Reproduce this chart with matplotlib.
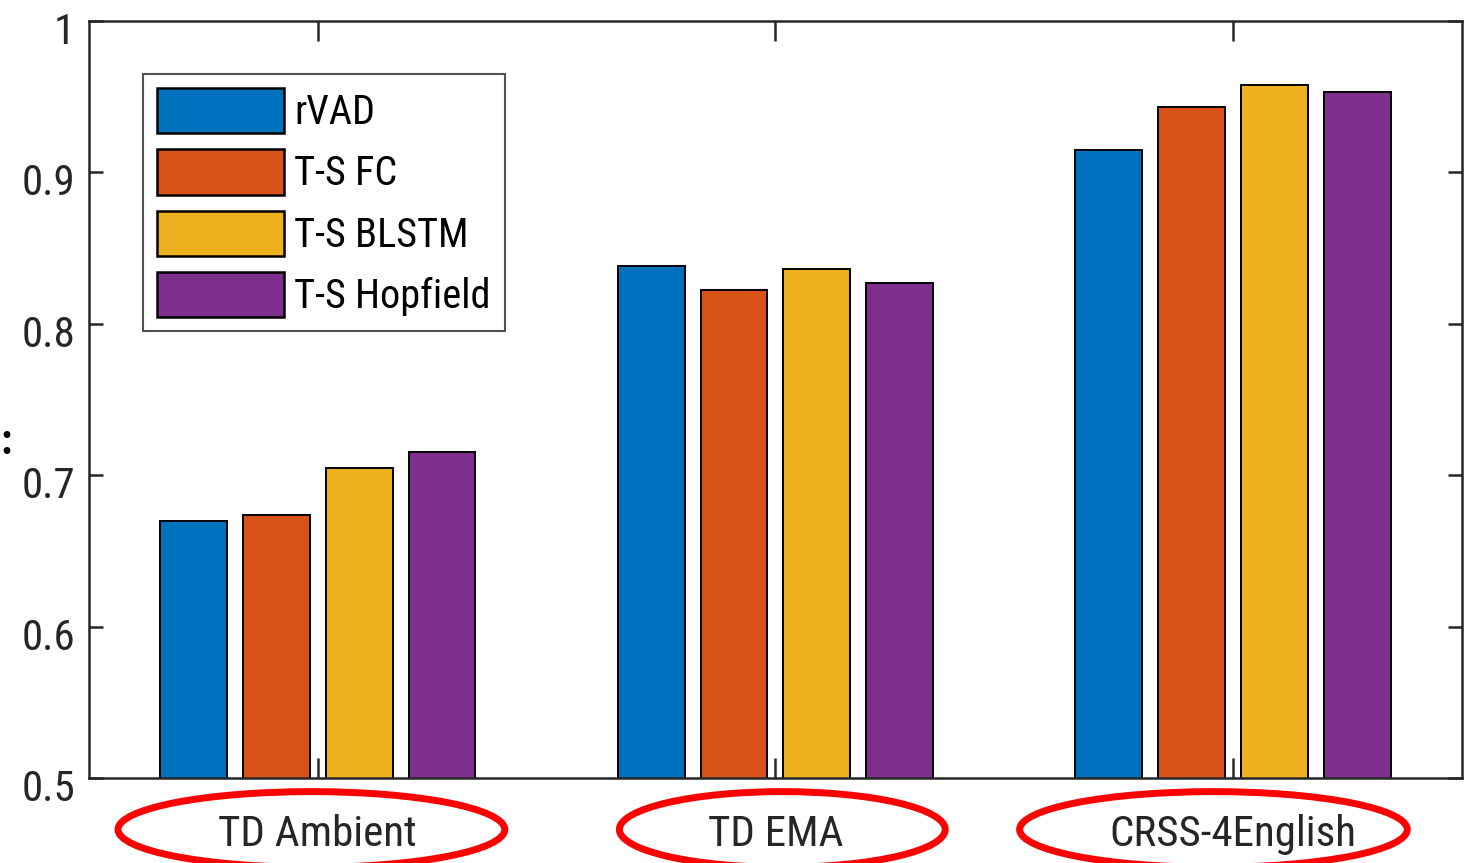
import matplotlib
matplotlib.use('Agg')
import matplotlib.pyplot as plt
import matplotlib.transforms as mtransforms
import numpy as np
from matplotlib.patches import Ellipse

plt.rcParams['font.family'] = ['Roboto Condensed', 'Liberation Sans', 'DejaVu Sans']

# Data
groups = ['TD Ambient', 'TD EMA', 'CRSS-4English']
methods = ['rVAD', 'T-S FC', 'T-S BLSTM', 'T-S Hopfield']
rvad = [0.670, 0.838, 0.915]
ts_fc = [0.674, 0.822, 0.943]
ts_blstm = [0.705, 0.836, 0.958]
ts_hopfield = [0.715, 0.827, 0.953]
colors = ['#0072BD', '#D95319', '#EDB120', '#7E2F8E']
yticks = [0.5, 0.6, 0.7, 0.8, 0.9, 1]
ytick_labels = ['0.5', '0.6', '0.7', '0.8', '0.9', '1']

fig = plt.figure(figsize=(14.73, 8.63), dpi=100)
ax = fig.add_axes([0.0604, 0.0985, 0.9321, 0.8772])

x = np.arange(1, len(groups) + 1)
step = 0.181
width = 0.146
series = [rvad, ts_fc, ts_blstm, ts_hopfield]
for i, vals in enumerate(series):
    ax.bar(x + (i - 1.5) * step, vals, width, color=colors[i], edgecolor='black',
           linewidth=1.4, label=methods[i], zorder=2)

ax.set_xlim(0.5, 3.5)
ax.set_ylim(0.5, 1.0)
ax.set_yticks(yticks)
ax.set_yticklabels(ytick_labels)
ax.set_xticks(x)
ax.set_xticklabels(groups)

dark = '#262626'
for s in ax.spines.values():
    s.set_linewidth(1.8)
    s.set_color(dark)
    s.set_zorder(3)
ax.tick_params(axis='x', direction='in', length=14.5, width=1.8, color=dark,
               top=True, labelsize=31, labelcolor=dark, pad=26)
ax.tick_params(axis='y', direction='in', length=10, width=1.8, color=dark,
               right=True, labelsize=31, labelcolor=dark, pad=10)

# MATLAB puts the y labels a little below the tick
shift = mtransforms.ScaledTranslation(0, -5 / 72, fig.dpi_scale_trans)
for lab in ax.get_yticklabels():
    lab.set_transform(lab.get_transform() + shift)

leg = ax.legend(loc='upper left', bbox_to_anchor=(0.0393, 0.930), fontsize=29,
                frameon=True, fancybox=False, borderaxespad=0, handlelength=3.15,
                handleheight=1.35, labelspacing=0.4, handletextpad=0.25,
                borderpad=0.35)
leg.get_frame().set_edgecolor(dark)
leg.get_frame().set_linewidth(1.5)
for t in leg.get_texts():
    t.set_color('black')
for h in leg.legend_handles:
    h.set_linewidth(1.8)

# red ellipses around category labels
ell_centers = [0.986, 2.015, 2.957]
ell_widths = [0.845, 0.712, 0.847]
for cx, w in zip(ell_centers, ell_widths):
    e = Ellipse((cx, -0.068), w, 0.100, transform=ax.get_xaxis_transform(),
                fill=False, edgecolor='red', linewidth=5, clip_on=False, zorder=5)
    ax.add_patch(e)

fig.text(0.0, 1 - 442 / 863, ':', ha='left', va='center', fontsize=30,
         fontweight='bold', color='black')

fig.savefig('out.png', dpi=100)
